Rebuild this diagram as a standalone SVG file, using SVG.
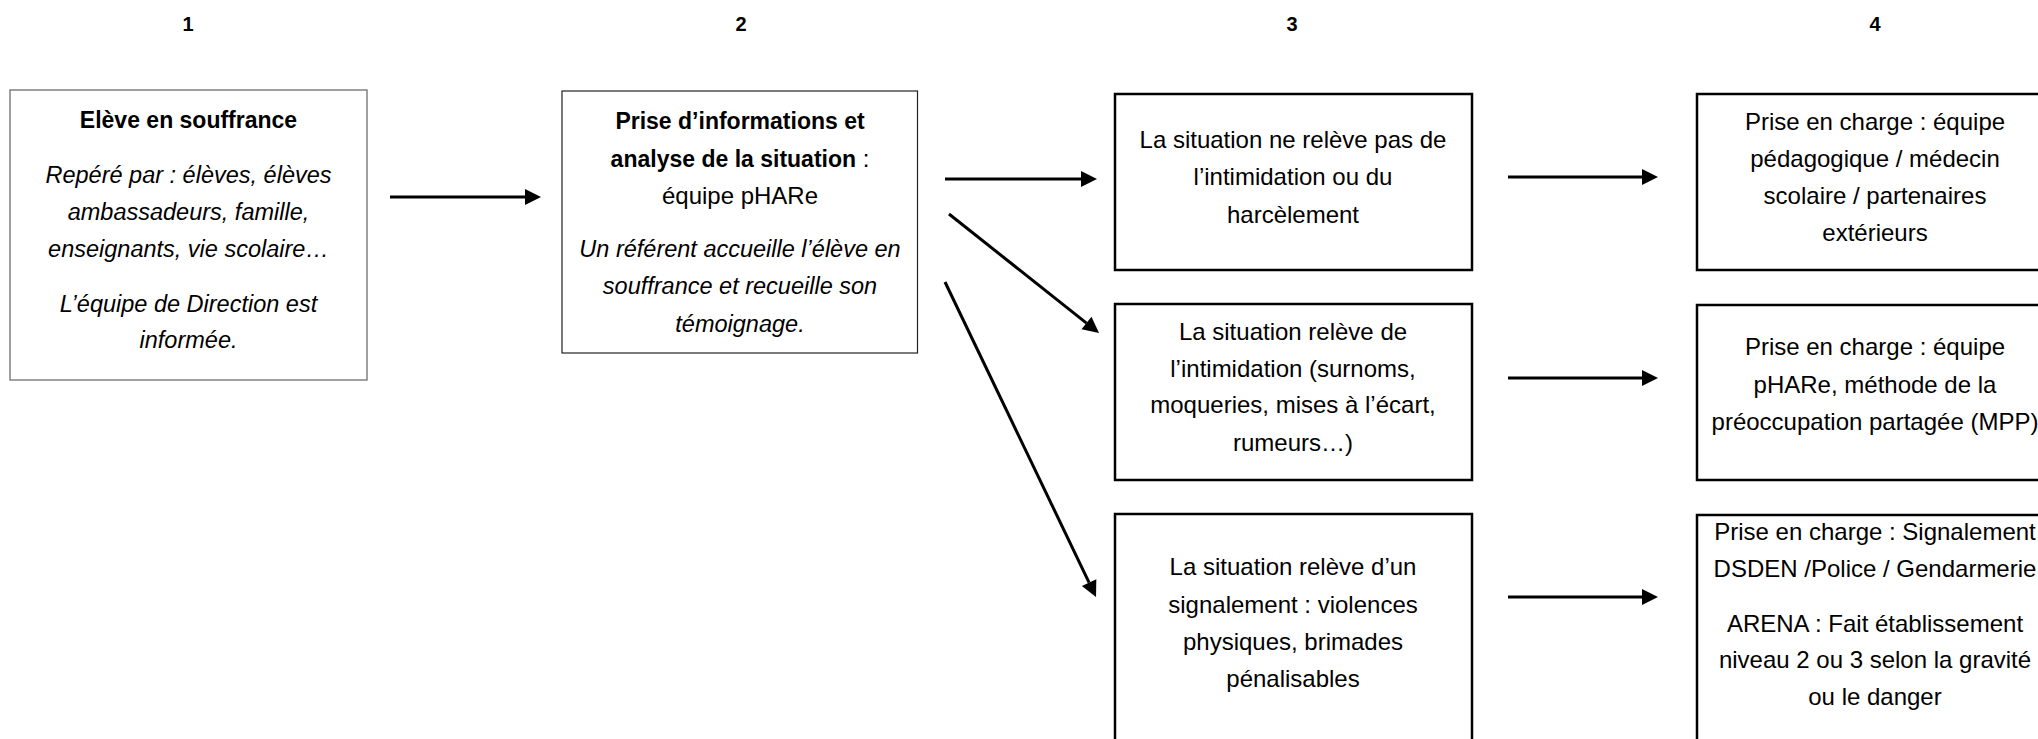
<svg xmlns="http://www.w3.org/2000/svg" width="2038" height="739" viewBox="0 0 2038 739">
<style>
text{font-family:"Liberation Sans",Arial,sans-serif;font-size:24px;fill:#000;text-anchor:middle}
.b{font-weight:bold;font-size:23px}
.i{font-style:italic;font-size:23.5px}
.num{font-weight:bold;font-size:20px}
.box{fill:#fff;stroke:#000;stroke-width:2.5}
.thin{fill:#fff;stroke:#222;stroke-width:1.2}
.gray{fill:#fff;stroke:#808080;stroke-width:1.5}
.arr{stroke:#000;stroke-width:3;fill:none;marker-end:url(#ah)}
</style>
<defs>
<marker id="ah" markerUnits="userSpaceOnUse" viewBox="0 -8 16 16" markerWidth="16" markerHeight="16" refX="0" refY="0" orient="auto" overflow="visible">
<path d="M0,-8 L16,0 L0,8 z" fill="#000"/>
</marker>
</defs>
<rect width="2038" height="739" fill="#fff"/>
<g id="labels">
<text class="num" x="188" y="31">1</text>
<text class="num" x="741" y="31">2</text>
<text class="num" x="1292" y="31">3</text>
<text class="num" x="1875" y="31">4</text>
</g>
<g id="n1">
<rect class="gray" x="10" y="90" width="357" height="290"/>
<text class="b" x="188.5" y="128">Elève en souffrance</text>
<text class="i" x="188.5" y="183">Repéré par : élèves, élèves</text>
<text class="i" x="188.5" y="220">ambassadeurs, famille,</text>
<text class="i" x="188.5" y="257">enseignants, vie scolaire…</text>
<text class="i" x="188.5" y="312">L’équipe de Direction est</text>
<text class="i" x="188.5" y="348">informée.</text>
</g>
<g id="n2">
<rect class="thin" x="562" y="91" width="355.5" height="262"/>
<text class="b" x="740" y="129">Prise d’informations et</text>
<text x="740" y="167"><tspan class="b">analyse de la situation</tspan> :</text>
<text x="740" y="204">équipe pHARe</text>
<text class="i" x="740" y="257">Un référent accueille l’élève en</text>
<text class="i" x="740" y="294">souffrance et recueille son</text>
<text class="i" x="740" y="332">témoignage.</text>
</g>
<g id="n3a">
<rect class="box" x="1115" y="94" width="357" height="176"/>
<text x="1293" y="148">La situation ne relève pas de</text>
<text x="1293" y="185">l’intimidation ou du</text>
<text x="1293" y="223">harcèlement</text>
</g>
<g id="n3b">
<rect class="box" x="1115" y="304" width="357" height="176"/>
<text x="1293" y="340">La situation relève de</text>
<text x="1293" y="377">l’intimidation (surnoms,</text>
<text x="1293" y="413">moqueries, mises à l’écart,</text>
<text x="1293" y="451">rumeurs…)</text>
</g>
<g id="n3c">
<rect class="box" x="1115" y="514" width="357" height="240"/>
<text x="1293" y="575">La situation relève d’un</text>
<text x="1293" y="613">signalement : violences</text>
<text x="1293" y="650">physiques, brimades</text>
<text x="1293" y="687">pénalisables</text>
</g>
<g id="n4a">
<rect class="box" x="1697" y="94" width="356" height="176"/>
<text x="1875" y="130">Prise en charge : équipe</text>
<text x="1875" y="167">pédagogique / médecin</text>
<text x="1875" y="204">scolaire / partenaires</text>
<text x="1875" y="241">extérieurs</text>
</g>
<g id="n4b">
<rect class="box" x="1697" y="305" width="356" height="175"/>
<text x="1875" y="355">Prise en charge : équipe</text>
<text x="1875" y="393">pHARe, méthode de la</text>
<text x="1875" y="430">préoccupation partagée (MPP)</text>
</g>
<g id="n4c">
<rect class="box" x="1697" y="515" width="356" height="240"/>
<text x="1875" y="540">Prise en charge : Signalement</text>
<text x="1875" y="577">DSDEN /Police / Gendarmerie</text>
<text x="1875" y="632">ARENA : Fait établissement</text>
<text x="1875" y="668">niveau 2 ou 3 selon la gravité</text>
<text x="1875" y="705">ou le danger</text>
</g>
<g id="connectors">
<line class="arr" x1="390" y1="197" x2="525" y2="197"/>
<line class="arr" x1="945" y1="179" x2="1081" y2="179"/>
<line class="arr" x1="949" y1="214" x2="1086.5" y2="323.1"/>
<line class="arr" x1="945" y1="282" x2="1089.1" y2="582.6"/>
<line class="arr" x1="1508" y1="177" x2="1642" y2="177"/>
<line class="arr" x1="1508" y1="378" x2="1642" y2="378"/>
<line class="arr" x1="1508" y1="597" x2="1642" y2="597"/>
</g>
</svg>
